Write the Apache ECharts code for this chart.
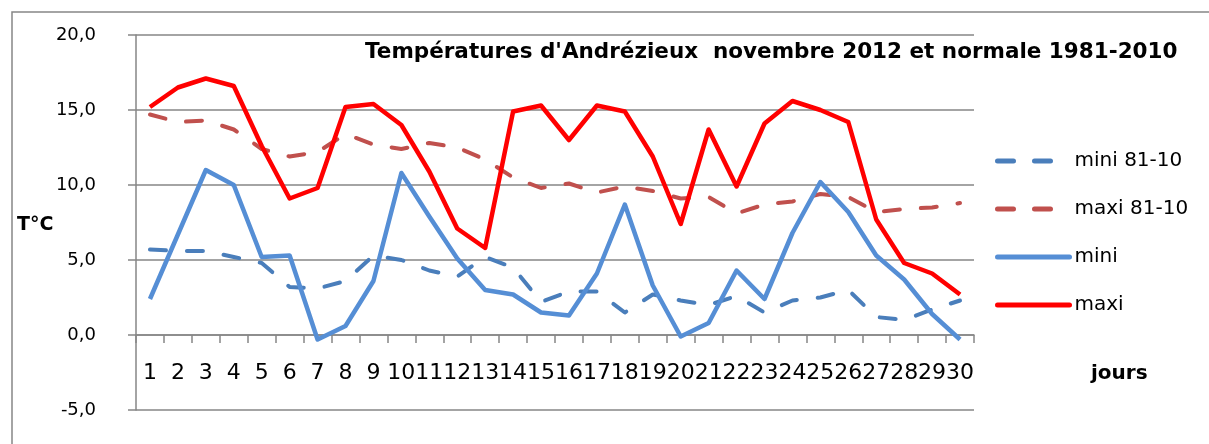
<!DOCTYPE html>
<html>
<head>
<meta charset="utf-8">
<title>Températures d'Andrézieux novembre 2012</title>
<script src="https://cdn.jsdelivr.net/npm/echarts@6/dist/echarts.min.js"></script>
<style>
  html, body { margin: 0; padding: 0; background: #fff; }
  #chart { width: 1209px; height: 444px; }
</style>
</head>
<body>
<div id="chart"></div>
<script>
// days of november 2012
const days = ['1', '2', '3', '4', '5', '6', '7', '8', '9', '10',
  '11', '12', '13', '14', '15', '16', '17', '18', '19', '20',
  '21', '22', '23', '24', '25', '26', '27', '28', '29', '30']

// normales 1981-2010
const mini8110 = [5.7, 5.6, 5.6, 5.2, 4.8, 3.2, 3.1, 3.6, 5.3, 5.0,
  4.3, 3.9, 5.2, 4.5, 2.2, 2.9, 2.9, 1.5, 2.7, 2.3,
  2.0, 2.6, 1.5, 2.3, 2.5, 3.0, 1.2, 1.0, 1.7, 2.3]
const maxi8110 = [14.7, 14.2, 14.3, 13.7, 12.4, 11.9, 12.2, 13.4, 12.7, 12.4,
  12.8, 12.5, 11.7, 10.5, 9.8, 10.1, 9.5, 9.9, 9.6, 9.1,
  9.2, 8.1, 8.7, 8.9, 9.4, 9.2, 8.2, 8.4, 8.5, 8.8]

// mesures novembre 2012
const mini = [2.4, 6.7, 11.0, 10.0, 5.2, 5.3, -0.3, 0.6, 3.6, 10.8,
  7.9, 5.1, 3.0, 2.7, 1.5, 1.3, 4.1, 8.7, 3.3, -0.1,
  0.8, 4.3, 2.4, 6.8, 10.2, 8.2, 5.3, 3.7, 1.4, -0.3]
const maxi = [15.2, 16.5, 17.1, 16.6, 12.6, 9.1, 9.8, 15.2, 15.4, 14.0,
  10.9, 7.1, 5.8, 14.9, 15.3, 13.0, 15.3, 14.9, 11.9, 7.4,
  13.7, 9.9, 14.1, 15.6, 15.0, 14.2, 7.7, 4.8, 4.1, 2.7]

const seriesNames = ['mini 81-10', 'maxi 81-10', 'mini', 'maxi']

const gridColor = '#868686'
const font = 'DejaVu Sans'

function lineSeries(name, data, color, dashed) {
  return {
    name: name,
    type: 'line',
    data: data,
    symbol: 'none',
    showSymbol: false,
    animation: false,
    lineStyle: {
      color: color,
      width: dashed ? 4 : 4.5,
      type: dashed ? [16, 21] : 'solid',
      cap: dashed ? 'round' : 'butt',
      join: 'round',
    },
    itemStyle: { color: color },
  }
}

const chart = echarts.init(document.getElementById('chart'), null, { renderer: 'canvas' })

chart.setOption({
  backgroundColor: '#fff',
  animation: false,
  title: {
    text: "Températures d'Andrézieux  novembre 2012 et normale 1981-2010",
    left: 365,
    top: 41,
    padding: 0,
    textStyle: {
      fontFamily: font,
      fontSize: 21.5,
      fontWeight: 'bold',
      color: '#000',
    },
  },
  legend: {
    orient: 'vertical',
    left: 995,
    top: 151,
    itemWidth: 72,
    itemHeight: 14,
    itemGap: 28,
    padding: 0,
    data: seriesNames,
    // only the line in the legend, no marker
    itemStyle: { opacity: 0 },
    lineStyle: { width: 5, cap: 'round' },
    textStyle: {
      fontFamily: font,
      fontSize: 20,
      color: '#000',
    },
  },
  grid: {
    left: 136,
    right: 235,
    top: 35,
    bottom: 34,
    containLabel: false,
    outerBoundsMode: 'none',
  },
  xAxis: {
    type: 'category',
    data: days,
    boundaryGap: true,
    position: 'bottom',
    // axis sits on 0, i.e. 75px above the bottom of the grid
    offset: -75,
    axisLine: { onZero: false, lineStyle: { color: gridColor, width: 1.5 } },
    axisTick: { show: true, length: 8, interval: 0, lineStyle: { color: gridColor, width: 1.5 } },
    axisLabel: {
      interval: 0,
      margin: 27,
      fontFamily: font,
      fontSize: 22,
      color: '#000',
    },
    splitLine: { show: false },
  },
  yAxis: {
    type: 'value',
    min: -5,
    max: 20,
    interval: 5,
    axisLine: { show: true, lineStyle: { color: gridColor, width: 1.5 } },
    axisTick: { show: true, length: 8, lineStyle: { color: gridColor, width: 1.5 } },
    axisLabel: {
      margin: 40,
      fontFamily: font,
      fontSize: 18,
      color: '#000',
      formatter: function (value) {
        return value.toFixed(1).replace('.', ',')
      },
    },
    splitLine: { show: true, lineStyle: { color: gridColor, width: 1.5 } },
  },
  graphic: [
    // outer chart border (runs off the picture on the right and bottom)
    {
      type: 'rect',
      shape: { x: 12, y: 12, width: 1300, height: 500 },
      style: { fill: 'none', stroke: gridColor, lineWidth: 1.5 },
      silent: true,
      z: -1,
    },
    {
      type: 'text',
      left: 17,
      top: 216,
      style: { text: 'T°C', fontFamily: font, fontSize: 19, fontWeight: 'bold', fill: '#000' },
    },
    {
      type: 'text',
      left: 1091,
      top: 364,
      style: { text: 'jours', fontFamily: font, fontSize: 20, fontWeight: 'bold', fill: '#000' },
    },
  ],
  series: [
    lineSeries(seriesNames[0], mini8110, '#4A7EBB', true),
    lineSeries(seriesNames[1], maxi8110, '#C0504D', true),
    lineSeries(seriesNames[2], mini, '#558ED5', false),
    lineSeries(seriesNames[3], maxi, '#FF0000', false),
  ],
})
</script>
</body>
</html>
